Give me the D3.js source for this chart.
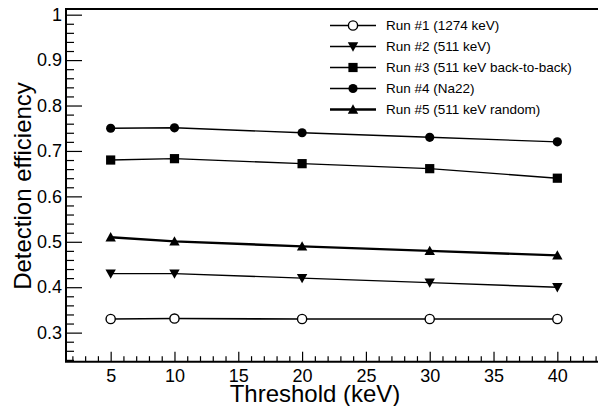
<!DOCTYPE html>
<html>
<head>
<meta charset="utf-8">
<script src="https://cdn.jsdelivr.net/npm/d3@7"></script>
<style>
  html, body { margin: 0; padding: 0; background: #fff; }
  svg { display: block; font-family: "Liberation Sans", Arial, sans-serif; }
</style>
</head>
<body>
<svg id="chart" width="598" height="406"></svg>
<script>
// ---- data ----
const thresholds = [5, 10, 20, 30, 40];
const seriesNames = [
  "Run #1 (1274 keV)",
  "Run #2 (511 keV)",
  "Run #3 (511 keV back-to-back)",
  "Run #4 (Na22)",
  "Run #5 (511 keV random)"
];
const run1 = [0.33, 0.331, 0.33, 0.33, 0.33];
const run2 = [0.43, 0.43, 0.42, 0.41, 0.40];
const run3 = [0.68, 0.683, 0.672, 0.661, 0.64];
const run4 = [0.75, 0.751, 0.74, 0.73, 0.72];
const run5 = [0.51, 0.501, 0.49, 0.48, 0.47];
const xTicks = [5, 10, 15, 20, 25, 30, 35, 40];
const yTicks = [0.3, 0.4, 0.5, 0.6, 0.7, 0.8, 0.9, 1.0];
const xTitle = "Threshold (keV)";
const yTitle = "Detection efficiency";

// ---- styles per series ----
const series = [
  { name: seriesNames[0], values: run1, marker: "openCircle", width: 1.6 },
  { name: seriesNames[1], values: run2, marker: "triDown", width: 1.4 },
  { name: seriesNames[2], values: run3, marker: "square", width: 1.4 },
  { name: seriesNames[3], values: run4, marker: "circle", width: 1.4 },
  { name: seriesNames[4], values: run5, marker: "triUp", width: 2.4 }
];

const svg = d3.select("#chart");
const pLeft = 66, pRight = 602, pTop = 9, pBottom = 361.7;

const x = d3.scaleLinear().domain([1.5, 43.5]).range([pLeft, pRight]);
const y = d3.scaleLinear().domain([0.236, 1.0125]).range([pBottom, pTop]);

// minor ticks
const xMinor = d3.range(2, 44, 1).filter(v => v % 5 !== 0);
const yMinor = d3.range(24, 101, 2).map(v => v / 100).filter(v => Math.round(v * 100) % 10 !== 0);

// Y axis
const yAxis = d3.axisLeft(y).tickValues(yTicks).tickSize(-16).tickPadding(4)
  .tickFormat(d => d === 1 ? "1" : d.toFixed(1));
const gy = svg.append("g").attr("transform", `translate(${pLeft},0)`).call(yAxis);
gy.select(".domain").remove();
gy.selectAll(".tick line").attr("stroke", "#000").attr("stroke-width", 1.2);
gy.selectAll(".tick text").attr("font-size", 18).attr("fill", "#000");

const gyMinor = svg.append("g").attr("transform", `translate(${pLeft},0)`)
  .call(d3.axisLeft(y).tickValues(yMinor).tickSize(-8).tickFormat(""));
gyMinor.select(".domain").remove();
gyMinor.selectAll(".tick line").attr("stroke", "#000").attr("stroke-width", 1.2);

// X axis
const xAxis = d3.axisBottom(x).tickValues(xTicks).tickSize(-10).tickPadding(7.5)
  .tickFormat(d3.format("d"));
const gx = svg.append("g").attr("transform", `translate(0,${pBottom})`).call(xAxis);
gx.select(".domain").remove();
gx.selectAll(".tick line").attr("stroke", "#000").attr("stroke-width", 1.2);
gx.selectAll(".tick text").attr("font-size", 18).attr("fill", "#000");

const gxMinor = svg.append("g").attr("transform", `translate(0,${pBottom})`)
  .call(d3.axisBottom(x).tickValues(xMinor).tickSize(-5.5).tickFormat(""));
gxMinor.select(".domain").remove();
gxMinor.selectAll(".tick line").attr("stroke", "#000").attr("stroke-width", 1.2);

// frame lines
svg.append("line").attr("x1", pLeft).attr("x2", pLeft).attr("y1", pTop).attr("y2", pBottom)
  .attr("stroke", "#000").attr("stroke-width", 2);
svg.append("line").attr("x1", pLeft - 1).attr("x2", 598).attr("y1", pBottom).attr("y2", pBottom)
  .attr("stroke", "#000").attr("stroke-width", 2);
svg.append("line").attr("x1", pLeft - 1).attr("x2", 598).attr("y1", pTop).attr("y2", pTop)
  .attr("stroke", "#000").attr("stroke-width", 2.2);

// titles
svg.append("text").attr("x", 315).attr("y", 401.5).attr("text-anchor", "middle")
  .attr("font-size", 24).attr("fill", "#000").text(xTitle);
svg.append("text").attr("transform", "translate(31,186) rotate(-90)").attr("text-anchor", "middle")
  .attr("font-size", 24).attr("fill", "#000").text(yTitle);

// markers
function drawMarker(g, type, cx, cy) {
  if (type === "openCircle") {
    g.append("circle").attr("cx", cx).attr("cy", cy).attr("r", 4.6)
      .attr("fill", "#fff").attr("stroke", "#000").attr("stroke-width", 1.4);
  } else if (type === "circle") {
    g.append("circle").attr("cx", cx).attr("cy", cy).attr("r", 4.6).attr("fill", "#000");
  } else if (type === "square") {
    g.append("rect").attr("x", cx - 4.6).attr("y", cy - 4.6).attr("width", 9.2).attr("height", 9.2).attr("fill", "#000");
  } else if (type === "triUp") {
    const s = 5.2;
    g.append("path").attr("d", `M${cx},${cy - s}L${cx + s},${cy + s * 0.8}L${cx - s},${cy + s * 0.8}Z`).attr("fill", "#000");
  } else if (type === "triDown") {
    const s = 5.2;
    g.append("path").attr("d", `M${cx},${cy + s}L${cx + s},${cy - s * 0.8}L${cx - s},${cy - s * 0.8}Z`).attr("fill", "#000");
  }
}

const line = d3.line().x(d => x(d[0])).y(d => y(d[1]));
const plot = svg.append("g");
series.forEach(s => {
  const pts = thresholds.map((t, i) => [t, s.values[i]]);
  plot.append("path").attr("d", line(pts)).attr("fill", "none")
    .attr("stroke", "#000").attr("stroke-width", s.width);
});
series.forEach(s => {
  thresholds.forEach((t, i) => drawMarker(plot, s.marker, x(t), y(s.values[i])));
});

// legend
const leg = svg.append("g");
series.forEach((s, i) => {
  const ly = 25.5 + i * 21;
  leg.append("line").attr("x1", 330).attr("x2", 376).attr("y1", ly).attr("y2", ly)
    .attr("stroke", "#000").attr("stroke-width", s.width);
  drawMarker(leg, s.marker, 353, ly);
  leg.append("text").attr("x", 386).attr("y", ly).attr("dy", "0.35em")
    .attr("font-size", 13.5).attr("fill", "#000").text(s.name);
});
</script>
</body>
</html>
